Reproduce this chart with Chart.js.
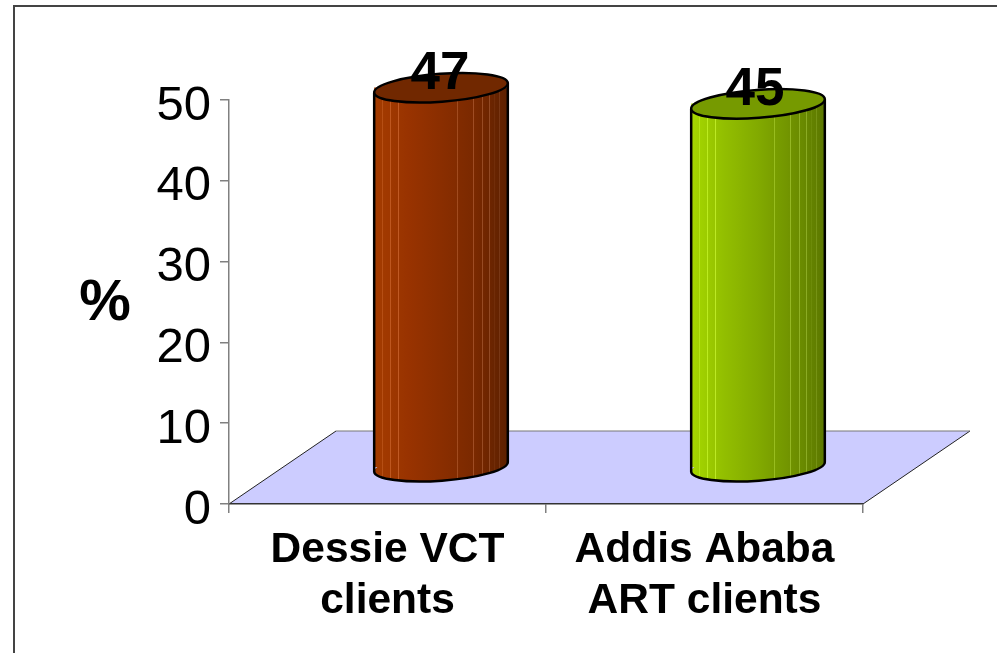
<!DOCTYPE html>
<html>
<head>
<meta charset="utf-8">
<style>html,body{margin:0;padding:0;background:#fff}canvas{display:block}</style>
<script src="https://cdn.jsdelivr.net/npm/chart.js@4"></script>
</head>
<body>
<canvas id="c" width="998" height="653"></canvas>
<script>
const categories = [["Dessie VCT", "clients"], ["Addis Ababa", "ART clients"]];
const percentValues = [47, 45];
const yTicksMax = 50;
const yTickStep = 10;
const axisUnit = "%";

const bodyStops = [
  [[164,60,0],[153,51,0],[138,46,0],[122,41,0],[92,32,0]],
  [[166,216,0],[146,190,0],[130,170,0],[112,146,0],[92,120,0]]
];
const capColors = ["#712800", "#769A00"];
const stripes = [0.06, 0.12, 0.18, 0.62, 0.74, 0.81, 0.86, 0.90, 0.94];
const DEPTH_X = 53.5, DEPTH_Y = -36.5, BACK_X = 107, BACK_Y = -73;
const RY = 14, TILT = -4.2 * Math.PI / 180;

function rgb(a){return `rgb(${a[0]},${a[1]},${a[2]})`;}
function bodyGradient(ctx, left, width, idx){
  const g = ctx.createLinearGradient(left, 0, left + width, 0);
  const s = bodyStops[idx];
  const colorAt = f => {
    const p = f * (s.length - 1), i = Math.min(Math.floor(p), s.length - 2), t = p - i;
    return s[i].map((v, k) => Math.round(v + (s[i + 1][k] - v) * t));
  };
  let points = [];
  for (let k = 0; k <= 20; k++) points.push([k / 20, rgb(colorAt(k / 20))]);
  stripes.forEach(f => {
    const c = colorAt(f).map(v => Math.min(255, v + 36));
    points.push([f - 0.004, rgb(colorAt(f))], [f - 0.003, rgb(c)], [f + 0.003, rgb(c)], [f + 0.004, rgb(colorAt(f))]);
  });
  points.sort((a, b) => a[0] - b[0]).forEach(p => g.addColorStop(p[0], p[1]));
  return g;
}
function barGeometry(el){
  const w = el.width, l = el.x - w / 2;
  return {l, w, rx: w / 2, cx: el.x, top: el.y, base: el.base};
}
function lowerBodyPath(ctx, g){
  const dx = g.rx * Math.cos(TILT), dy = g.rx * Math.sin(TILT);
  ctx.moveTo(g.cx - dx, g.top - dy - 40);
  ctx.lineTo(g.cx + dx, g.top + dy - 40);
  ctx.lineTo(g.cx + dx, g.base + dy);
  ctx.ellipse(g.cx, g.base, g.rx, RY, TILT, 0, Math.PI, false);
  ctx.closePath();
}

const cylinderPlugin = {
  id: "cylinder",
  beforeDraw(chart){
    const {ctx, chartArea: a} = chart;
    ctx.save();
    ctx.strokeStyle = "#444";
    ctx.lineWidth = 2;
    ctx.beginPath();
    ctx.moveTo(14, chart.height);
    ctx.lineTo(14, 6);
    ctx.lineTo(997, 6);
    ctx.stroke();
    // floor
    ctx.fillStyle = "#CCCCFF";
    ctx.beginPath();
    ctx.moveTo(a.left, a.bottom);
    ctx.lineTo(a.left + BACK_X, a.bottom + BACK_Y);
    ctx.lineTo(a.right + BACK_X, a.bottom + BACK_Y);
    ctx.lineTo(a.right, a.bottom);
    ctx.closePath();
    ctx.fill();
    ctx.lineWidth = 1;
    ctx.strokeStyle = "#222";
    ctx.beginPath();
    ctx.moveTo(a.left, a.bottom);
    ctx.lineTo(a.left + BACK_X, a.bottom + BACK_Y);
    ctx.moveTo(a.right + BACK_X, a.bottom + BACK_Y);
    ctx.lineTo(a.right, a.bottom);
    ctx.stroke();
    ctx.strokeStyle = "#777";
    ctx.beginPath();
    ctx.moveTo(a.left + BACK_X, a.bottom + BACK_Y);
    ctx.lineTo(a.right + BACK_X, a.bottom + BACK_Y);
    ctx.stroke();
    ctx.restore();
  },
  beforeDatasetsDraw(chart){
    const ctx = chart.ctx;
    const els = chart.getDatasetMeta(0).data;
    ctx.save();
    ctx.translate(DEPTH_X, DEPTH_Y);
    els.forEach((el, i) => {
      const g = barGeometry(el);
      ctx.beginPath();
      ctx.ellipse(g.cx, g.base, g.rx, RY, TILT, 0, Math.PI * 2);
      ctx.fillStyle = bodyGradient(ctx, g.l, g.w, i);
      ctx.fill();
    });
    ctx.beginPath();
    els.forEach(el => lowerBodyPath(ctx, barGeometry(el)));
    ctx.clip();
  },
  afterDatasetsDraw(chart){
    const ctx = chart.ctx;
    ctx.restore();
    const els = chart.getDatasetMeta(0).data;
    ctx.save();
    ctx.translate(DEPTH_X, DEPTH_Y);
    els.forEach((el, i) => {
      const g = barGeometry(el);
      const dx = g.rx * Math.cos(TILT), dy = g.rx * Math.sin(TILT);
      ctx.strokeStyle = "#000";
      ctx.lineWidth = 2.5;
      ctx.beginPath();
      ctx.moveTo(g.cx - dx, g.top - dy);
      ctx.lineTo(g.cx - dx, g.base - dy);
      ctx.ellipse(g.cx, g.base, g.rx, RY, TILT, Math.PI, 0, true);
      ctx.lineTo(g.cx + dx, g.top + dy);
      ctx.stroke();
      ctx.beginPath();
      ctx.ellipse(g.cx, g.top, g.rx, RY, TILT, 0, Math.PI * 2);
      ctx.fillStyle = capColors[i];
      ctx.fill();
      ctx.stroke();
      ctx.fillStyle = "#000";
      ctx.font = "bold 53px 'Liberation Sans'";
      ctx.textAlign = "center";
      ctx.textBaseline = "middle";
      ctx.fillText(String(percentValues[i]), g.cx - 1 - 2 * i, g.top - 13.5);
    });
    ctx.restore();
    ctx.save();
    ctx.fillStyle = "#000";
    ctx.font = "bold 58px 'Liberation Sans'";
    ctx.textAlign = "center";
    ctx.textBaseline = "middle";
    ctx.fillText(axisUnit, 105, 304);
    ctx.restore();
  }
};

new Chart(document.getElementById("c"), {
  type: "bar",
  plugins: [cylinderPlugin],
  data: {
    labels: categories,
    datasets: [{
      data: percentValues,
      barThickness: 134,
      clip: false,
      borderWidth: 0,
      backgroundColor(c){
        const chart = c.chart, xs = chart.scales.x;
        if (!xs || !chart.chartArea || c.dataIndex === undefined) return "#999";
        const cx = xs.getPixelForValue(c.dataIndex);
        return bodyGradient(chart.ctx, cx - 67, 134, c.dataIndex);
      }
    }]
  },
  options: {
    responsive: false,
    animation: false,
    events: [],
    layout: {padding: {top: 100, right: 135, left: 0, bottom: 0}},
    plugins: {legend: {display: false}, tooltip: {enabled: false}, title: {display: false}},
    scales: {
      x: {
        afterFit(s){ s.height = 149; },
        grid: {drawOnChartArea: false, drawTicks: true, tickLength: 9, color: "#808080", lineWidth: 1.5, offset: true},
        border: {color: "#333", width: 1.5},
        ticks: {
          color: "#000", maxRotation: 0, autoSkip: false, padding: 12,
          font: {family: "'Liberation Sans'", weight: "bold", size: 42.5, lineHeight: "51px"}
        }
      },
      y: {
        min: 0, max: yTicksMax,
        afterFit(s){ s.width = 229; },
        grid: {drawOnChartArea: false, tickLength: 9, color: "#808080", lineWidth: 1.5},
        border: {color: "#808080", width: 1.5},
        ticks: {
          stepSize: yTickStep, color: "#000", padding: 9,
          callback: v => ["", String(v)],
          font: {family: "'Liberation Sans'", size: 49, lineHeight: "12px"}
        }
      }
    }
  }
});
</script>
</body>
</html>
